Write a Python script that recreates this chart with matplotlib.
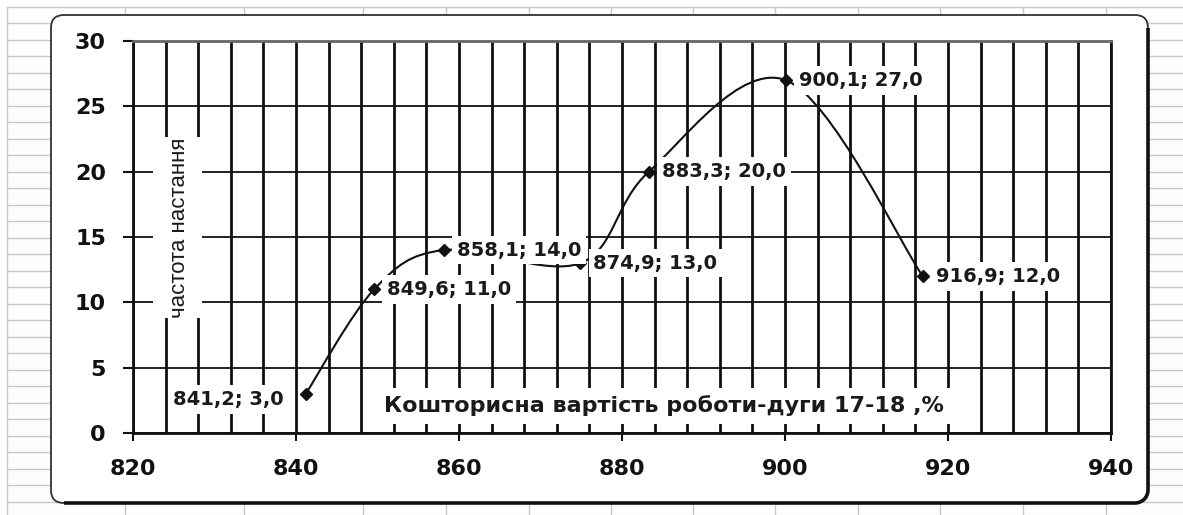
import numpy as np
import matplotlib
matplotlib.use("Agg")
import matplotlib.pyplot as plt
from matplotlib.path import Path
from matplotlib.patches import PathPatch, FancyBboxPatch, Arc, Rectangle
from matplotlib.ticker import MultipleLocator

# ---- data ----
x_vals = [841.2, 849.6, 858.1, 874.9, 883.3, 900.1, 916.9]
y_vals = [3.0, 11.0, 14.0, 13.0, 20.0, 27.0, 12.0]
point_labels = ["841,2; 3,0", "849,6; 11,0", "858,1; 14,0", "874,9; 13,0",
                "883,3; 20,0", "900,1; 27,0", "916,9; 12,0"]
x_ticks = [820, 840, 860, 880, 900, 920, 940]
y_ticks = [0, 5, 10, 15, 20, 25, 30]
x_title = "Кошторисна вартість роботи-дуги 17-18 ,%"
y_title = "частота настання"

W, H = 1183, 515
fig = plt.figure(figsize=(W / 100, H / 100), dpi=100)
fig.patch.set_facecolor('#fdfdfd')

# ---- spreadsheet background + chart area (pixel coords) ----
bg = fig.add_axes([0, 0, 1, 1], zorder=-5)
bg.set_xlim(0, W)
bg.set_ylim(H, 0)
bg.axis('off')
grid_c = '#c9c9c9'
col_x = [7, 125, 244, 363, 446, 529, 611, 693, 775, 858, 940, 1023, 1106]
for cx in col_x:
    bg.plot([cx, cx], [6.5, H], color=grid_c, lw=1)
for k in range(32):
    ry = 6.5 + 16.5 * k
    bg.plot([7, W], [ry, ry], color=grid_c, lw=1)

L, T, R, B = 51, 15, 1148, 503
rad = 13
box = FancyBboxPatch((L, T), R - L, B - T,
                     boxstyle=f"round,pad=0,rounding_size={rad}",
                     facecolor='white', edgecolor='#333333', lw=1.3, zorder=3)
bg.add_patch(box)
bg.plot([R, R], [T + rad, B - rad], color='#111111', lw=2.6, zorder=4,
        solid_capstyle='butt')
bg.plot([L + rad, R - rad], [B, B], color='#111111', lw=2.6, zorder=4,
        solid_capstyle='butt')
bg.add_patch(Arc((R - rad, B - rad), 2 * rad, 2 * rad, theta1=0, theta2=90,
                 color='#111111', lw=2.6, zorder=4))

# ---- main axes ----
ax = fig.add_axes([133 / W, (H - 433) / H, 978 / W, 392 / H], zorder=1)
ax.set_facecolor('white')
ax.set_xlim(820, 940)
ax.set_ylim(0, 30)
ax.set_xticks(x_ticks)
ax.set_yticks(y_ticks)
ax.xaxis.set_minor_locator(MultipleLocator(4))
ax.set_axisbelow(True)
ax.grid(which='both', axis='x', color='#111111', lw=2)
ax.grid(which='major', axis='y', color='#111111', lw=1.3)
ax.tick_params(which='minor', length=0)
ax.tick_params(axis='x', which='major', direction='out', length=6, width=1.5,
               pad=13, labelsize=16, colors='#111111')
ax.tick_params(axis='y', which='major', direction='out', length=7.5, width=1.5,
               pad=12, labelsize=16, colors='#111111')
for lab in ax.get_xticklabels() + ax.get_yticklabels():
    lab.set_fontfamily('DejaVu Sans')
    lab.set_fontweight('bold')
for s in ['left', 'bottom', 'right']:
    ax.spines[s].set_color('#111111')
    ax.spines[s].set_linewidth(2)
ax.spines['top'].set_color('#666666')
ax.spines['top'].set_linewidth(2)

# ---- smoothed line (Catmull-Rom as cubic Bezier) ----
P = np.column_stack([x_vals, y_vals])
n = len(P)
verts = [tuple(P[0])]
codes = [Path.MOVETO]
for i in range(n - 1):
    pm = P[max(i - 1, 0)]
    p0 = P[i]
    p1 = P[i + 1]
    p2 = P[min(i + 2, n - 1)]
    c1 = p0 + (p1 - pm) / 6.0
    c2 = p1 - (p2 - p0) / 6.0
    verts += [tuple(c1), tuple(c2), tuple(p1)]
    codes += [Path.CURVE4, Path.CURVE4, Path.CURVE4]
ax.add_patch(PathPatch(Path(verts, codes), fill=False, edgecolor='#111111',
                       lw=1.5, zorder=3))
ax.plot(x_vals, y_vals, linestyle='none', marker='D', ms=6,
        color='#111111', zorder=4)

# ---- data labels ----
for i, (x, y, t) in enumerate(zip(x_vals, y_vals, point_labels)):
    if i == 0:
        off, ha = (-22, -6), 'right'
    else:
        off, ha = (13, 0), 'left'
    ax.annotate(t, (x, y), xytext=off, textcoords='offset pixels',
                ha=ha, va='center', fontsize=14, fontweight='bold',
                family='DejaVu Sans', color='#1a1a1a', zorder=6,
                bbox=dict(boxstyle='square,pad=0.25', fc='white', ec='none'))

# ---- axis titles inside plot ----
ax.text(0.543, 0.069, x_title, transform=ax.transAxes, ha='center', va='center',
        fontsize=16, fontweight='bold', family='DejaVu Sans', color='#1a1a1a',
        zorder=6, bbox=dict(boxstyle='square,pad=0.35', fc='white', ec='none'))
ax.add_patch(Rectangle((0.0204, 0.293), 0.0502, 0.462, transform=ax.transAxes,
                       facecolor='white', edgecolor='none', zorder=5))
ax.text(0.048, 0.523, y_title, transform=ax.transAxes, ha='center', va='center',
        rotation=90, fontsize=16, family='Liberation Sans', color='#1a1a1a',
        zorder=6)

fig.savefig('out.png', dpi=100, facecolor=fig.get_facecolor())
